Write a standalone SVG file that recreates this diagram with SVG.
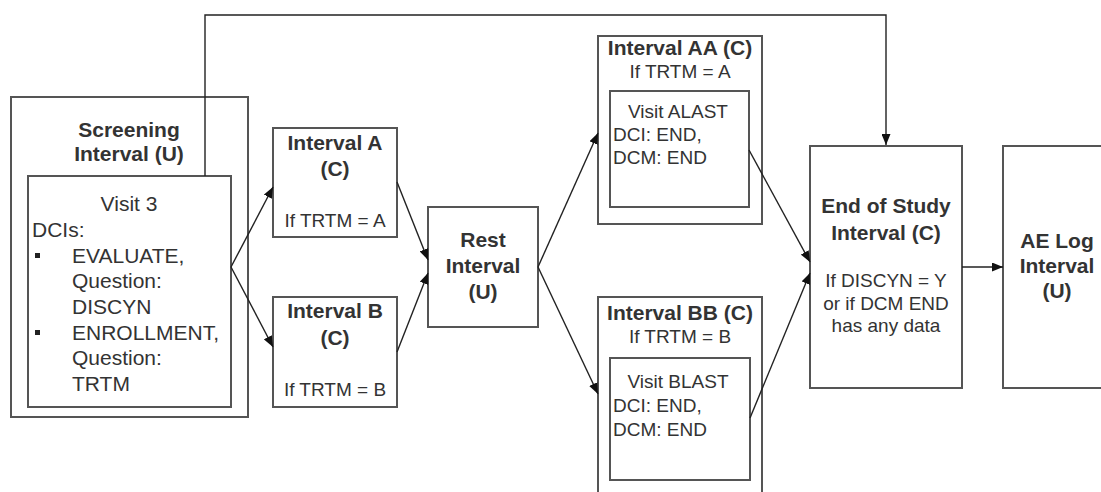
<svg xmlns="http://www.w3.org/2000/svg" width="1101" height="492" viewBox="0 0 1101 492">
<style>
.box{fill:#fff;stroke:#555;stroke-width:2}
.t{font-family:"Liberation Sans",Arial,sans-serif;font-size:19px;fill:#333}
.b{font-family:"Liberation Sans",Arial,sans-serif;font-size:21px;font-weight:bold;fill:#333}
.v{font-family:"Liberation Sans",Arial,sans-serif;font-size:21px;fill:#333}
.m{text-anchor:middle}
.c{fill:none;stroke:#222;stroke-width:1.4}
</style>
<defs>
<marker id="ah" markerUnits="userSpaceOnUse" markerWidth="11" markerHeight="9" refX="11" refY="4.5" orient="auto">
<path d="M0,0 L11,4.5 L0,9 z" fill="#111"/>
</marker>
</defs>
<rect width="1101" height="492" fill="#fff"/>
<g id="screening">
<rect class="box" x="11" y="97" width="237" height="320"/>
<text class="b m" x="129" y="137">Screening</text>
<text class="b m" x="129" y="161">Interval (U)</text>
<g id="visit3">
<rect class="box" x="28" y="176" width="203" height="231"/>
<text class="v m" x="129" y="211">Visit 3</text>
<text class="v" x="32" y="237">DCIs:</text>
<rect x="35" y="253" width="5" height="5" fill="#222"/>
<text class="v" x="72" y="263">EVALUATE,</text>
<text class="v" x="72" y="288">Question:</text>
<text class="v" x="72" y="314">DISCYN</text>
<rect x="35" y="330" width="5" height="5" fill="#222"/>
<text class="v" x="72" y="340">ENROLLMENT,</text>
<text class="v" x="72" y="365">Question:</text>
<text class="v" x="72" y="391">TRTM</text>
</g>
</g>
<g id="intervalA">
<rect class="box" x="273" y="128" width="124" height="109"/>
<text class="b m" x="335" y="150">Interval A</text>
<text class="b m" x="335" y="176">(C)</text>
<text class="t m" x="335" y="227">If TRTM = A</text>
</g>
<g id="intervalB">
<rect class="box" x="273" y="297" width="124" height="110"/>
<text class="b m" x="335" y="318">Interval B</text>
<text class="b m" x="335" y="345">(C)</text>
<text class="t m" x="335" y="396">If TRTM = B</text>
</g>
<g id="rest">
<rect class="box" x="428" y="207" width="110" height="120"/>
<text class="b m" x="483" y="247">Rest</text>
<text class="b m" x="483" y="273">Interval</text>
<text class="b m" x="483" y="299">(U)</text>
</g>
<g id="intervalAA">
<rect class="box" x="598" y="36" width="164" height="188"/>
<text class="b m" x="680" y="55">Interval AA (C)</text>
<text class="t m" x="680" y="78">If TRTM = A</text>
<g id="visitALAST">
<rect class="box" x="610" y="91" width="139" height="116"/>
<text class="t m" x="678" y="118">Visit ALAST</text>
<text class="t" x="613" y="141">DCI: END,</text>
<text class="t" x="613" y="164">DCM: END</text>
</g>
</g>
<g id="intervalBB">
<rect class="box" x="598" y="297" width="164" height="205"/>
<text class="b m" x="680" y="320">Interval BB (C)</text>
<text class="t m" x="680" y="343">If TRTM = B</text>
<g id="visitBLAST">
<rect class="box" x="610" y="358" width="140" height="122"/>
<text class="t m" x="678" y="388">Visit BLAST</text>
<text class="t" x="613" y="412">DCI: END,</text>
<text class="t" x="613" y="436">DCM: END</text>
</g>
</g>
<g id="endOfStudy">
<rect class="box" x="810" y="146" width="152" height="242"/>
<text class="b m" x="886" y="213">End of Study</text>
<text class="b m" x="886" y="240">Interval (C)</text>
<text class="t m" x="886" y="287">If DISCYN = Y</text>
<text class="t m" x="886" y="310">or if DCM END</text>
<text class="t m" x="886" y="332">has any data</text>
</g>
<g id="aeLog">
<rect class="box" x="1003" y="146" width="110" height="242"/>
<text class="b m" x="1057" y="248">AE Log</text>
<text class="b m" x="1057" y="273">Interval</text>
<text class="b m" x="1057" y="298">(U)</text>
</g>
<g id="connectors">
<path class="c" d="M205,176 V15 H886 V145" marker-end="url(#ah)"/>
<path class="c" d="M231,267 L273,187" marker-end="url(#ah)"/>
<path class="c" d="M231,267 L273,347" marker-end="url(#ah)"/>
<path class="c" d="M397,182 L428,260" marker-end="url(#ah)"/>
<path class="c" d="M397,352 L428,273" marker-end="url(#ah)"/>
<path class="c" d="M538,267 L598,133" marker-end="url(#ah)"/>
<path class="c" d="M538,267 L598,394" marker-end="url(#ah)"/>
<path class="c" d="M749,150 L810,262" marker-end="url(#ah)"/>
<path class="c" d="M750,418 L810,273" marker-end="url(#ah)"/>
<path class="c" d="M962,267 H1003" marker-end="url(#ah)"/>
</g>
</svg>
